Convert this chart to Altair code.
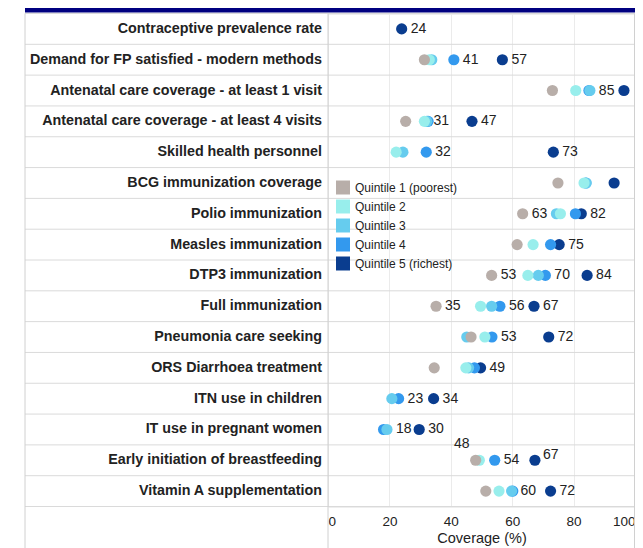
import altair as alt
import pandas as pd

indicators = [
    "Contraceptive prevalence rate",
    "Demand for FP satisfied - modern methods",
    "Antenatal care coverage - at least 1 visit",
    "Antenatal care coverage - at least 4 visits",
    "Skilled health personnel",
    "BCG immunization coverage",
    "Polio immunization",
    "Measles immunization",
    "DTP3 immunization",
    "Full immunization",
    "Pneumonia care seeking",
    "ORS Diarrhoea treatment",
    "ITN use in children",
    "IT use in pregnant women",
    "Early initiation of breastfeeding",
    "Vitamin A supplementation",
]
N = None
q1 = [N, 31.4, 73.1, 25.3, N, 74.9, 63.4, 61.6, 53.3, 35.2, 46.6, 34.6, N, N, 48.1, 51.4]
q2 = [N, 33.0, 80.7, 31.4, 22.2, 83.4, 75.7, 66.8, 65.1, 49.7, 51.1, 44.9, N, N, 49.3, 55.7]
q3 = [N, 33.8, 85.3, 32.2, 24.4, 84.1, 74.4, N, 68.5, 53.3, 45.2, 45.8, 20.8, 19.2, N, 59.8]
q4 = [N, 41.0, 85.0, 32.6, 32.0, 84.0, 80.6, 72.5, 70.8, 56.0, 53.4, 47.7, 23.0, 18.1, 54.3, 60.2]
q5 = [24.0, 56.8, 96.4, 46.9, 73.4, 93.2, 82.5, 75.3, 84.4, 67.1, 71.9, 49.7, 34.4, 29.7, 67.4, 72.5]

quintiles = ["Quintile 1 (poorest)", "Quintile 2", "Quintile 3", "Quintile 4", "Quintile 5 (richest)"]
colors = ["#b8aea9", "#98eeec", "#66ccee", "#3399ee", "#0a3d8f"]

# value labels: indicator index, quintile (1-5), text
label_row = [0, 1, 1, 2, 3, 3, 4, 4, 6, 6, 7, 8, 8, 8, 9, 9, 9, 10, 10, 11, 12, 12, 13, 13, 14, 15, 15]
label_quintile = [5, 4, 5, 3, 2, 5, 4, 5, 1, 5, 5, 1, 4, 5, 1, 4, 5, 4, 5, 5, 4, 5, 3, 5, 4, 3, 5]
label_text = ["24", "41", "57", "85", "31", "47", "32", "73", "63", "82", "75", "53", "70", "84",
              "35", "56", "67", "53", "72", "49", "23", "34", "18", "30", "54", "60", "72"]
above_row, above_quintile, above_text = [14], [1], ["48"]
raised_row, raised_quintile, raised_text = [14], [5], ["67"]

series = [q1, q2, q3, q4, q5]
n_rows = len(indicators)

dots = []
for i in range(n_rows):
    for q in range(5):
        v = series[q][i]
        if v is not None:
            dots.append({"pos": i + 0.5, "value": v, "quintile": quintiles[q], "ord": 4 - q})
dots = pd.DataFrame(dots)


def label_df(rows, qs, texts):
    return pd.DataFrame({
        "pos": [r + 0.5 for r in rows],
        "value": [series[q - 1][r] for r, q in zip(rows, qs)],
        "text": texts,
    })


labels = label_df(label_row, label_quintile, label_text)
above = label_df(above_row, above_quintile, above_text)
raised = label_df(raised_row, raised_quintile, raised_text)
rows_df = pd.DataFrame({"pos": [i + 0.5 for i in range(n_rows)], "name": indicators})
bounds = pd.DataFrame({"b": list(range(n_rows + 1))})
one = pd.DataFrame({"a": [0]})

W, H = 307, 493
PAD = {"left": 320, "top": 5.5, "right": 0, "bottom": 41.5}
LEFT = -303

yscale = alt.Scale(domain=[0, n_rows], reverse=True, nice=False, zero=False)
xscale = alt.Scale(domain=[0, 100], nice=False)
Y = alt.Y("pos:Q", scale=yscale, axis=None)
X = alt.X("value:Q", scale=xscale,
          axis=alt.Axis(values=[0, 20, 40, 60, 80, 100], title="Coverage (%)", labelFlush=True,
                        grid=True, gridColor="#ebebeb", domain=False, ticks=False,
                        labelFontSize=13.5, labelPadding=8, labelColor="#222",
                        titleFontSize=14.5, titleFontWeight="normal", titleColor="#222",
                        titlePadding=3))

navy = alt.Chart(one).mark_rect(color="#000080").encode(
    x=alt.value(LEFT), x2=alt.value(W + 2), y=alt.value(-5.5), y2=alt.value(-1))

dividers = alt.Chart(bounds).mark_rule(color="#dadada", strokeWidth=1).encode(
    y=alt.Y("b:Q", scale=yscale, axis=None), x=alt.value(LEFT), x2=alt.value(W))

vlines = alt.Chart(pd.DataFrame({"a": [0]})).mark_rule(color="#d0d0d0", strokeWidth=1)
vleft = vlines.encode(x=alt.value(LEFT), y=alt.value(0), y2=alt.value(H + PAD["bottom"]))
vmid = vlines.encode(x=alt.value(0), y=alt.value(0), y2=alt.value(H + PAD["bottom"]))
vright = vlines.encode(x=alt.value(W - 0.5), y=alt.value(0), y2=alt.value(H + PAD["bottom"]))

names = alt.Chart(rows_df).mark_text(align="right", baseline="middle", fontSize=14.3,
                                     fontWeight="bold", color="#222").encode(
    y=Y, x=alt.value(-6), text="name:N")

points = alt.Chart(dots).mark_circle(size=125, opacity=1).encode(
    x=X, y=Y,
    color=alt.Color("quintile:N", scale=alt.Scale(domain=quintiles, range=colors),
                    legend=alt.Legend(title=None, orient="none", legendX=8, legendY=167,
                                      symbolType="square", symbolSize=196, symbolStrokeWidth=0,
                                      symbolOpacity=1, labelFontSize=12, labelColor="#222",
                                      rowPadding=5, labelOffset=5, padding=0)),
    order=alt.Order("ord:Q"))

txt = dict(baseline="middle", fontSize=14, color="#222")
vlabels = alt.Chart(labels).mark_text(align="left", dx=9, **txt).encode(
    x=alt.X("value:Q", scale=xscale), y=Y, text="text:N")
alabels = alt.Chart(above).mark_text(align="center", dx=-14, dy=-16, **txt).encode(
    x=alt.X("value:Q", scale=xscale), y=Y, text="text:N")
rlabels = alt.Chart(raised).mark_text(align="left", dx=8, dy=-5, **txt).encode(
    x=alt.X("value:Q", scale=xscale), y=Y, text="text:N")

chart = alt.layer(navy, dividers, vleft, vmid, vright, names, points, vlabels, alabels, rlabels).properties(
    width=W, height=H, padding=PAD,
    autosize=alt.AutoSizeParams(type="none"),
).configure_view(stroke=None).configure(font="Liberation Sans")

chart.save("out.html", embed_options={"renderer": "svg", "actions": False})
